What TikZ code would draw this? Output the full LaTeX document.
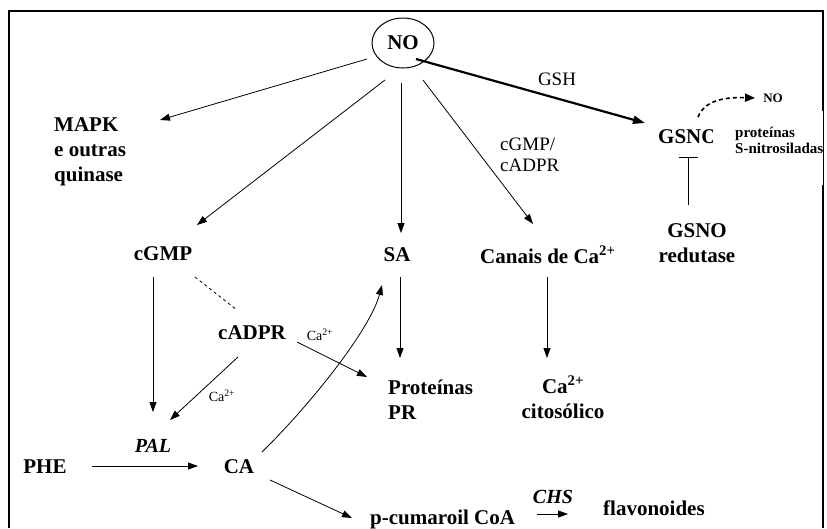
\documentclass[tikz,border=0pt]{standalone}
\usepackage{fontspec}
\setmainfont{Liberation Serif}
\usetikzlibrary{arrows.meta,shapes.geometric}
\begin{document}
\begin{tikzpicture}[x=1pt,y=-1pt,
  big/.style={font=\bfseries\fontsize{21}{25}\selectfont, inner sep=0pt, align=left},
  bigc/.style={big, align=center},
  bigit/.style={font=\bfseries\itshape\fontsize{20}{24}\selectfont, inner sep=0pt},
  reg/.style={font=\fontsize{19}{21}\selectfont, inner sep=0pt, align=left},
  tiny/.style={font=\fontsize{14}{16}\selectfont, inner sep=0pt},
  smallb/.style={font=\bfseries\fontsize{15}{16}\selectfont, inner sep=0pt, align=left},
  arr/.style={-{Triangle[length=10pt,width=7pt]}, line width=0.8pt},
  thickarr/.style={-{Triangle[length=12pt,width=8pt]}, line width=2.2pt}]
\useasboundingbox (0,0) rectangle (827,528);
% frame
\draw[line width=2pt] (9,528) -- (9,11) -- (823,11) -- (823,111);
\draw[line width=2pt] (823,185) -- (823,528);

% nodes
\node[draw, ellipse, line width=1pt, minimum width=62pt, minimum height=50pt, inner sep=0pt,
      font=\bfseries\fontsize{21}{24}\selectfont] (NO) at (403,43) {NO};
\node[reg, anchor=base] (gsh) at (557,85) {GSH};
\node[big, anchor=north west] (mapk) at (54,117) {MAPK\\e outras\\quinase};
\node[reg, anchor=north west] (cgl) at (500,137.5) {cGMP/\\cADPR};
\node[big, anchor=base west] (gsno) at (658,143) {GSNO};
\node[big, anchor=base] (cgmp) at (163,260) {cGMP};
\node[big, anchor=base] (sa) at (397,261) {SA};
\node[big, anchor=base west] (canais) at (480,263) {Canais de Ca\textsuperscript{2+}};
\node[bigc, anchor=north] (red) at (697,223) {GSNO\\redutase};
\node[big, anchor=base] (cadpr) at (252,339) {cADPR};
\node[tiny] (ca1) at (320,335) {Ca\textsuperscript{2+}};
\node[tiny] (ca2) at (222,396) {Ca\textsuperscript{2+}};
\node[big, anchor=north west] (pr) at (388,380) {Proteínas\\PR};
\node[bigc, anchor=north] (cit) at (563,376) {Ca\textsuperscript{2+}\\citosólico};
\node[bigit, anchor=base] (pal) at (153,452) {PAL};
\node[big, anchor=base] (phe) at (45,473) {PHE};
\node[big, anchor=base] (ca) at (239,473) {CA};
\node[big, anchor=base west] (pcum) at (370,524) {p-cumaroil CoA};
\node[bigit, anchor=base] (chs) at (553,503) {CHS};
\node[big, anchor=base west] (flav) at (603,515) {flavonoides};
\node[font=\bfseries\fontsize{13}{15}\selectfont, inner sep=0pt] (no2) at (773,98) {NO};

% white box covering GSNO
\fill[white] (713,112) rectangle (822.5,185);
\begin{scope}
\clip (713,112) rectangle (823,185);
\node[smallb, anchor=base west] (psn) at (735,153) {proteínas\\S-nitrosiladas};
\end{scope}
\draw[line width=0.8pt] (823,111) -- (823,185);

% coordinates for arrow ends
\coordinate (tMapk) at (160,120);
\coordinate (tCgmp) at (197,225);
\coordinate (tSa) at (401,233);
\coordinate (tCan) at (533,224);
\coordinate (tGsno) at (645,123);

% connectors from NO
\draw[arr] ([shift={(-36,16)}]NO.center) -- (tMapk);
\draw[arr] ([shift={(-18,37)}]NO.center) -- (tCgmp);
\draw[arr] ([shift={(-2,40)}]NO.center) -- (tSa);
\draw[arr] ([shift={(20,37)}]NO.center) -- (tCan);
\draw[thickarr] ([shift={(13,16)}]NO.center) -- (tGsno);

% GSNO -> NO dashed curve
\draw[line width=1.6pt, dash pattern=on 4pt off 3pt, -{Triangle[length=10pt,width=8pt]}]
  ([shift={(40,-26)}]gsno.base west) .. controls (705,100) and (725,97) .. ([xshift=-8]no2.west);

% GSNO redutase inhibition
\draw[line width=0.8pt, -{Bar[width=19pt,line width=0.8pt]}] ([yshift=18]red.north -| 688,0) -- (688,157);

% lower pathway
\draw[arr] ([shift={(-10,17)}]cgmp.base) -- (153,412);
\draw[dashed, line width=0.8pt] ([shift={(32,17)}]cgmp.base) -- ([shift={(-15,-29)}]cadpr.base);
\draw[arr] ([shift={(45,3)}]cadpr.base) -- (367,377);
\draw[arr] ([shift={(-14,18)}]cadpr.base) -- (170,420);
\draw[arr] ([shift={(47,-7)}]phe.base) -- (198,466);
\draw[arr] ([shift={(23,-21)}]ca.base) .. controls (310,405) and (370,330) .. (382,285);
\draw[arr] ([shift={(31,7)}]ca.base) -- (352,518);
\draw[arr] ([shift={(3,16)}]sa.base) -- (400,358);
\draw[arr] (547,277) -- (547,358);
\draw[arr] ([shift={(-16,11)}]chs.base) -- ([shift={(15,11)}]chs.base);
\end{tikzpicture}
\end{document}
